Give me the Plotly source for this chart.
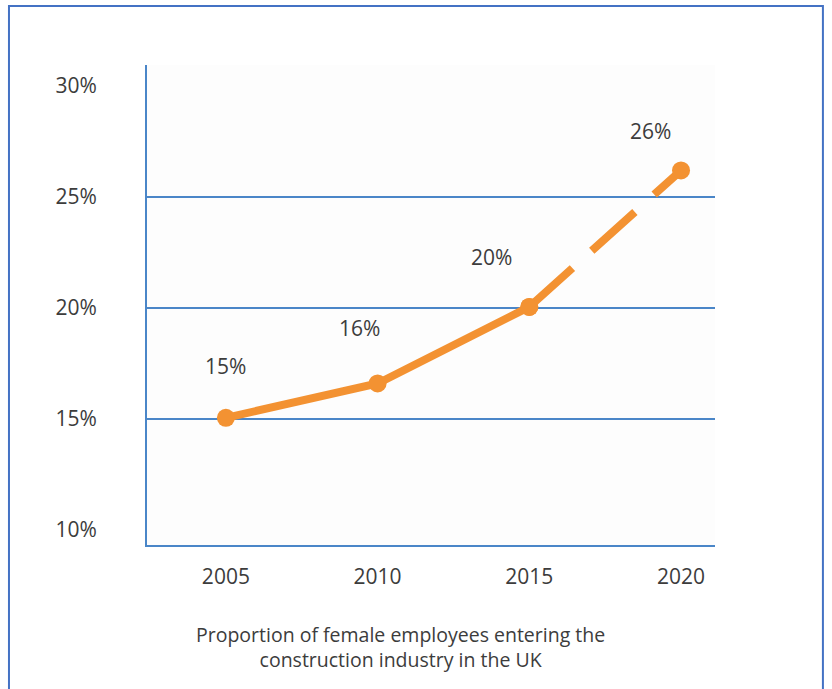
import plotly.graph_objects as go

years = [2005, 2010, 2015, 2020]
values = [15.05, 16.6, 20.05, 26.2]
point_labels = ["15%", "16%", "20%", "26%"]
ytick_vals = [10, 15, 20, 25, 30]
ytick_text = ["10%", "15%", "20%", "25%", "30%"]
grid_vals = [15, 20, 25]
caption = "Proportion of female employees entering the<br>construction industry in the UK"

ORANGE = "#f39232"
BLUE = "#4a86c8"
FRAME = "#4472c4"
TXT = "#3c3c3c"
FONT = "Open Sans"

fig = go.Figure()

# solid part (observed)
fig.add_trace(go.Scatter(
    x=years[:3], y=values[:3], mode="lines+markers",
    line=dict(color=ORANGE, width=8),
    marker=dict(color=ORANGE, size=18),
    hoverinfo="skip", showlegend=False))
# dashed part (projection)
fig.add_trace(go.Scatter(
    x=years[2:], y=values[2:], mode="lines+markers",
    line=dict(color=ORANGE, width=8, dash="58px,26px"),
    marker=dict(color=ORANGE, size=18),
    hoverinfo="skip", showlegend=False))

shifts = [(0, 52), (-18, 55), (-38, 50), (-31, 39)]
for (x, y, t), (dx, dy) in zip(zip(years, values, point_labels), shifts):
    fig.add_annotation(x=x, y=y, text=t, showarrow=False, xshift=dx, yshift=dy,
                       font=dict(family=FONT, size=21, color=TXT))

for g in grid_vals:
    fig.add_shape(type="line", xref="paper", yref="y", x0=0, x1=1, y0=g, y1=g,
                  line=dict(color=BLUE, width=2), layer="below")

# outer frame
fig.add_shape(type="rect", xref="paper", yref="paper",
              x0=-0.243, x1=1.190, y0=-0.35, y1=1.123,
              line=dict(color=FRAME, width=2), fillcolor="rgba(0,0,0,0)")

fig.add_annotation(xref="paper", yref="paper", x=0.447, y=-0.213, text=caption,
                   showarrow=False, align="center", xanchor="center", yanchor="middle",
                   font=dict(family=FONT, size=19.5, color=TXT))

fig.update_layout(
    width=832, height=689,
    margin=dict(l=147, r=117, t=65, b=144),
    paper_bgcolor="white", plot_bgcolor="#fdfdfd",
    font=dict(family=FONT, size=21, color=TXT),
    xaxis=dict(range=[2002.4, 2021.12], tickvals=years, ticktext=[str(y) for y in years],
               showgrid=False, zeroline=False, showline=True, linecolor=BLUE, linewidth=2,
               ticks="", ticklabelstandoff=12, fixedrange=True),
    yaxis=dict(range=[9.32, 30.95], tickvals=ytick_vals, ticktext=ytick_text,
               showgrid=False, zeroline=False, showline=True, linecolor=BLUE, linewidth=2,
               ticks="", ticklabelstandoff=44, fixedrange=True),
)

fig.write_html("out.html")
